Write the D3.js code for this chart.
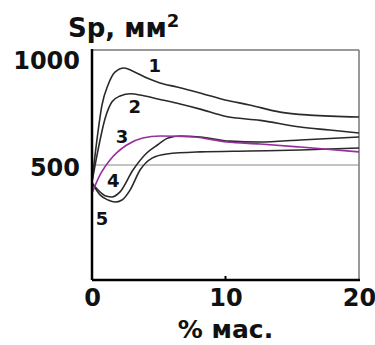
<!DOCTYPE html>
<meta charset="utf-8">
<html>
<head>
    <script src="https://cdn.jsdelivr.net/npm/d3@7"></script>
    <style>
        body { margin: 0; padding: 0; background: #fff; }
        text { font-family: "DejaVu Sans", sans-serif; font-weight: bold; fill: #111; }
    </style>
</head>
<body>
    <svg id="chart" width="375" height="345"></svg>
    <script>
        // values: [% мас., Sp]
        var curve1 = [[0, 426], [0.37, 609], [0.75, 761], [1.2, 848], [1.72, 904], [2.4, 922], [3.07, 908],
            [4.12, 878], [5.09, 857], [6.37, 839], [8.09, 813], [9.96, 783], [11.8, 761], [14.1, 730], [16.3, 717], [20, 709]];
        var curve2 = [[0, 426], [0.45, 565], [0.97, 700], [1.5, 775], [2.1, 800], [2.9, 810], [3.8, 802],
            [5.1, 785], [6.6, 765], [8.1, 743], [9.96, 712], [12.6, 694], [15.6, 665], [17.8, 652], [20, 639]];
        var curve3 = [[0, 378], [0.6, 457], [1.35, 522], [2.6, 587], [3.8, 617], [5.1, 626], [7.6, 622],
            [10.1, 600], [12.6, 591], [15.6, 578], [20, 557]];
        var curve4 = [[0, 422], [0.6, 383], [1.05, 365], [1.5, 361], [2.1, 383], [3.07, 478], [4.1, 552],
            [4.9, 587], [5.7, 617], [6.6, 626], [8.1, 622], [10.3, 604], [12.6, 600], [15.6, 609], [20, 622]];
        var curve5 = [[0, 422], [0.6, 370], [1.2, 348], [1.72, 339], [2.25, 348], [2.85, 391], [3.6, 478],
            [4.5, 530], [5.6, 548], [8.1, 557], [11.8, 561], [15.6, 565], [20, 574]];

        var xTicks = [0, 10, 20];
        var yTicks = [500, 1000];
        var curveLabels = ["1", "2", "3", "4", "5"];
        // where the numbers sit (baseline), in data units
        var labelPos = [[4.7, 904], [3.2, 726], [2.25, 596], [1.6, 404], [0.75, 239]];

        var svg = d3.select("#chart");
        var x = d3.scaleLinear().domain([0, 20]).range([92, 359]);
        var y = d3.scaleLinear().domain([0, 1000]).range([280, 50]);

        // frame: grey top/right, grey line at 500
        svg.append("line").attr("x1", x(0)).attr("x2", x(20)).attr("y1", y(1000)).attr("y2", y(1000))
            .attr("stroke", "#777").attr("stroke-width", 1.5);
        svg.append("line").attr("x1", x(20)).attr("x2", x(20)).attr("y1", y(1000)).attr("y2", y(0))
            .attr("stroke", "#777").attr("stroke-width", 1.5);
        svg.append("line").attr("x1", x(0)).attr("x2", x(20)).attr("y1", y(500)).attr("y2", y(500))
            .attr("stroke", "#888").attr("stroke-width", 1);

        var line = d3.line()
            .x(function (d) { return x(d[0]); })
            .y(function (d) { return y(d[1]); })
            .curve(d3.curveMonotoneX);

        var series = [
            { data: curve5, color: "#2a2a2a" },
            { data: curve4, color: "#2a2a2a" },
            { data: curve2, color: "#2a2a2a" },
            { data: curve1, color: "#2a2a2a" },
            { data: curve3, color: "#952f9a" }
        ];
        svg.selectAll(".curve")
            .data(series)
            .enter()
            .append("path")
            .attr("class", "curve")
            .attr("fill", "none")
            .attr("stroke", function (d) { return d.color; })
            .attr("stroke-width", 1.6)
            .attr("d", function (d) { return line(d.data); });

        // axes
        var xAxis = svg.append("g")
            .attr("transform", "translate(0," + y(0) + ")")
            .call(d3.axisBottom(x).tickValues(xTicks).tickSize(0).tickPadding(12).tickFormat(d3.format("d")));
        xAxis.select(".domain").remove();
        xAxis.selectAll("text").attr("font-size", 24).attr("font-family", null).attr("dy", "0.6em");

        var yAxis = svg.append("g")
            .attr("transform", "translate(" + x(0) + ",0)")
            .call(d3.axisLeft(y).tickValues(yTicks).tickSize(0).tickPadding(12).tickFormat(d3.format("d")));
        yAxis.select(".domain").remove();
        yAxis.selectAll("text").attr("font-size", 24).attr("font-family", null)
            .attr("dy", function (d) { return d === 1000 ? "0.77em" : "0.42em"; });

        svg.append("line").attr("x1", x(0)).attr("x2", x(20) + 1).attr("y1", y(0)).attr("y2", y(0))
            .attr("stroke", "#000").attr("stroke-width", 2.5);
        svg.append("line").attr("x1", x(0)).attr("x2", x(0)).attr("y1", y(1000) - 1).attr("y2", y(0))
            .attr("stroke", "#000").attr("stroke-width", 2.5);
        svg.append("line").attr("x1", x(10)).attr("x2", x(10)).attr("y1", y(0)).attr("y2", y(0) - 4)
            .attr("stroke", "#000").attr("stroke-width", 2);

        // curve numbers
        svg.selectAll(".num")
            .data(curveLabels)
            .enter()
            .append("text")
            .attr("class", "num")
            .attr("x", function (d, i) { return x(labelPos[i][0]); })
            .attr("y", function (d, i) { return y(labelPos[i][1]); })
            .attr("text-anchor", "middle")
            .attr("font-size", 18)
            .text(function (d) { return d; });

        // titles
        var title = svg.append("text").attr("x", 68).attr("y", 37).attr("font-size", 26);
        title.append("tspan").text("Sp, мм");
        title.append("tspan").attr("font-size", 18).attr("dy", -10).text("2");

        svg.append("text").attr("x", x(10)).attr("y", 338).attr("text-anchor", "middle")
            .attr("font-size", 25).text("% мас.");
    </script>
</body>
</html>
